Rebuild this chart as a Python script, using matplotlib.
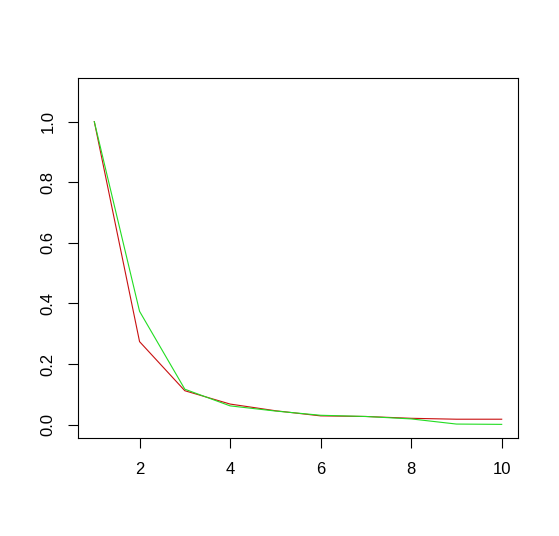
import matplotlib
matplotlib.use("Agg")
import matplotlib.pyplot as plt

x = [1, 2, 3, 4, 5, 6, 7, 8, 9, 10]
red_series = [1.0, 0.274, 0.112, 0.068, 0.046, 0.029, 0.027, 0.021, 0.018, 0.018]
green_series = [1.0, 0.374, 0.117, 0.062, 0.045, 0.031, 0.027, 0.019, 0.002, 0.001]
xticks = [2, 4, 6, 8, 10]
yticks = [0.0, 0.2, 0.4, 0.6, 0.8, 1.0]

plt.rcParams['font.family'] = ['Liberation Sans', 'DejaVu Sans']

fig = plt.figure(figsize=(5.59, 5.36), dpi=100)
ax = fig.add_axes([78/559, 1 - 438/536, (518-78)/559, (438-78)/536])

ax.plot(x, red_series, color='#C81010', linewidth=0.8)
ax.plot(x, green_series, color='#22DD22', linewidth=0.8)

ax.set_xlim(0.64, 10.36)
ax.set_ylim(-0.044, 1.144)
ax.set_xticks(xticks)
ax.set_xticklabels([str(t) for t in xticks])
ax.set_yticks(yticks)
ax.set_yticklabels([f"{t:.1f}" for t in yticks], rotation=90, va='center')
ax.tick_params(direction='out', length=7, width=0.8, labelsize=12, colors='black', pad=10)
ax.tick_params(axis='y', pad=9)
for s in ax.spines.values():
    s.set_linewidth(0.8)
    s.set_color('black')

fig.savefig('out.png', dpi=100)
